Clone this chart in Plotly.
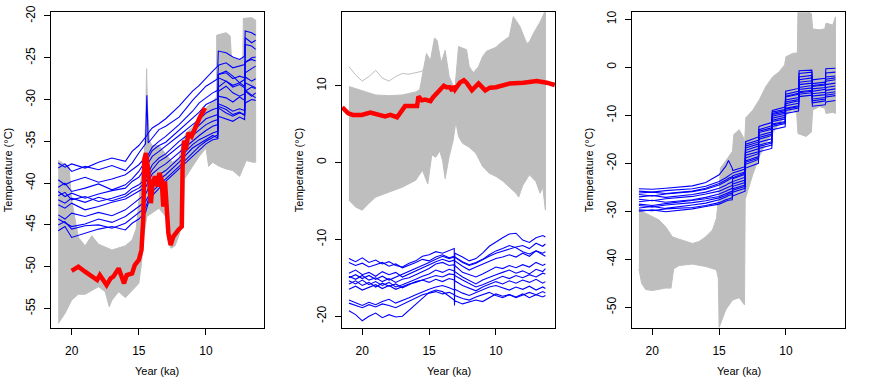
import plotly.graph_objects as go

# ---------------- Panel 1 data ----------------
g1_up_x = [21, 20.2, 20.0, 19.8, 19.5, 19, 18.5, 18, 17, 16, 15.5, 15.2, 15.0, 14.8, 14.6, 14.5, 14.42, 14.35, 14.2, 14.0,
           13.5, 13.0, 12.5, 12.0, 11.8, 11.5, 11.0, 10.5, 10.0, 9.5, 9.22, 9.2, 8.5, 8.2, 8.1, 7.5, 7.25, 7.22, 6.6, 6.3]
g1_up_y = [-37.3, -38.0, -42.0, -44.0, -46.5, -47.5, -46.3, -47.3, -48.0, -47.5, -46.8, -45.5, -42.0, -39.0, -37.0, -33.0, -26.3, -31.0, -35.0, -35.5,
           -35.5, -36.5, -37.5, -37.0, -35.5, -34.0, -33.3, -32.0, -31.0, -30.2, -29.7, -22.3, -22.0, -22.4, -25.0, -25.3, -25.0, -20.3, -20.2, -20.5]
g1_lo_x = [21, 20.5, 20, 19.5, 19, 18, 17.5, 17.2, 17, 16.5, 16, 15.5, 15, 14.8, 14.6, 14.4, 14, 13.5, 13, 12.8,
           12.6, 12.3, 12, 11.7, 11.6, 11, 10.5, 10, 9.8, 9.5, 9, 8.5, 8, 7.5, 7, 6.5, 6.3]
g1_lo_y = [-56.8, -55.6, -54.0, -53.3, -53.3, -52.4, -53.0, -54.8, -54.0, -53.0, -53.7, -52.9, -52.0, -49.6, -46.0, -44.0, -43.6, -43.0, -44.0, -47.0,
           -47.8, -47.5, -46.2, -44.5, -39.5, -38.0, -36.8, -35.8, -38.0, -37.5, -38.0, -38.3, -38.5, -39.2, -37.3, -37.5, -37.5]

years1 = [21, 20.5, 20, 19, 18, 17, 16, 15.5, 15, 14.5, 14.4, 14.3, 14, 13.5, 13, 12, 11, 10.5, 10, 9.5,
          9.12, 9.08, 8.5, 8, 7.5, 7.12, 7.08, 6.6, 6.3]
blue1 = [
    [-37.6, -38.1, -37.7, -38.2, -37.5, -37.0, -37.4, -36.2, -35.5, -34.6, -34.3, -34.0, -33.4, -32.9, -32.3, -30.8, -29.0, -28.3, -27.4, -26.6, -26.0, -24.2, -24.4, -24.9, -25.2, -24.8, -21.8, -22.0, -22.3],
    [-38.2, -37.7, -38.6, -38.0, -38.4, -37.9, -38.5, -37.6, -36.4, -35.3, -29.5, -35.2, -34.6, -33.6, -33.2, -32.1, -30.1, -29.2, -28.4, -27.9, -27.5, -25.9, -25.6, -26.2, -26.0, -25.8, -25.5, -25.2, -25.4],
    [-39.6, -40.2, -39.8, -39.3, -39.9, -39.5, -39.0, -38.4, -37.8, -36.9, -36.5, -36.6, -35.7, -35.0, -34.4, -33.0, -31.4, -30.4, -29.8, -29.2, -28.9, -28.5, -27.8, -28.3, -28.0, -28.4, -25.6, -25.0, -24.9],
    [-40.5, -40.0, -41.0, -40.6, -40.1, -40.8, -40.2, -39.5, -38.6, -37.3, -36.8, -37.0, -36.1, -35.5, -35.1, -33.7, -32.2, -31.5, -30.6, -30.2, -29.9, -27.0, -26.8, -27.5, -27.2, -27.4, -26.8, -26.3, -26.0],
    [-41.0, -41.6, -41.2, -41.8, -41.3, -40.9, -40.6, -39.8, -39.3, -38.2, -37.9, -37.6, -36.8, -36.2, -35.6, -34.3, -33.0, -32.4, -31.6, -31.2, -31.0, -29.6, -29.8, -30.3, -29.7, -30.1, -28.0, -28.4, -28.6],
    [-41.5, -41.1, -42.0, -41.6, -42.2, -41.8, -41.3, -40.6, -40.2, -39.5, -39.0, -38.8, -37.8, -37.0, -36.5, -35.0, -33.8, -33.1, -32.3, -32.0, -31.8, -30.5, -30.9, -31.4, -31.1, -31.3, -22.6, -23.2, -22.9],
    [-42.0, -42.4, -41.8, -42.3, -41.7, -42.1, -41.6, -41.0, -40.6, -39.9, -39.6, -39.2, -38.4, -37.4, -36.9, -35.6, -34.2, -33.6, -33.0, -32.6, -32.4, -27.0, -26.6, -27.2, -28.0, -27.6, -27.3, -27.8, -27.5],
    [-42.6, -43.0, -42.4, -43.2, -42.8, -42.3, -41.9, -41.4, -41.0, -40.5, -40.2, -39.8, -38.9, -38.2, -37.7, -36.3, -34.9, -34.3, -33.7, -33.2, -33.0, -29.0, -28.4, -29.2, -29.6, -29.3, -29.0, -28.5, -28.7],
    [-43.8, -44.3, -43.6, -44.0, -43.5, -43.9, -43.2, -42.6, -42.0, -41.3, -41.0, -40.6, -39.6, -39.0, -38.5, -37.0, -35.4, -34.8, -34.4, -34.0, -33.8, -27.4, -27.8, -28.5, -28.2, -28.6, -28.9, -29.4, -29.8],
    [-44.3, -44.8, -45.2, -44.9, -44.3, -44.7, -44.0, -43.4, -42.8, -42.2, -41.9, -41.6, -40.5, -39.6, -39.0, -37.5, -35.8, -35.3, -34.7, -34.3, -34.6, -30.8, -31.2, -31.8, -31.5, -31.9, -30.4, -30.0, -30.1],
    [-45.0, -44.6, -45.5, -45.1, -45.0, -45.4, -44.8, -44.2, -43.6, -42.9, -42.5, -42.0, -41.0, -40.2, -39.5, -38.0, -36.4, -35.6, -35.0, -34.5, -34.2, -32.0, -32.3, -32.6, -32.1, -32.4, -29.0, -29.6, -29.2],
    [-45.7, -45.2, -46.5, -46.0, -45.5, -45.2, -45.6, -44.8, -44.3, -43.5, -43.0, -42.4, -41.5, -40.6, -39.8, -38.3, -36.8, -36.1, -35.3, -34.8, -34.7, -31.0, -31.6, -32.0, -31.6, -31.8, -23.4, -23.6, -24.0],
]
red1_x = [20, 19.5, 19, 18.5, 18.1, 17.9, 17.6, 17.4, 17.1, 16.9, 16.5, 16.3, 16.1, 15.9, 15.5, 15.3, 15.0, 14.8, 14.66, 14.6,
          14.47, 14.3, 14.1, 13.97, 13.8, 13.6, 13.47, 13.3, 13.18, 13.05, 12.93, 12.8, 12.63, 12.43, 12.06, 11.8, 11.74, 11.64, 11.5, 11.3,
          11.07, 10.8, 10.45, 10.07]
red1_y = [-50.5, -50.0, -50.6, -51.2, -51.6, -51.0, -51.6, -52.2, -51.4, -51.2, -50.2, -51.2, -52.0, -51.0, -50.8, -49.8, -49.2, -48.0, -44.0, -37.2,
          -36.4, -38.4, -42.4, -40.0, -39.2, -40.4, -38.8, -39.6, -42.8, -39.8, -43.2, -46.0, -47.4, -46.4, -45.6, -45.2, -38.0, -34.9, -36.0, -34.0,
          -34.4, -33.3, -32.1, -31.0]

# ---------------- Panel 2 data ----------------
g2_up_x = [21, 20, 19, 18, 17, 16, 15.7, 15.2, 14.9, 14.6, 14.4, 14.1, 13.8, 13.5, 13.2, 13.1, 12.8, 12.2, 12.0, 11.7,
           11.3, 11.0, 10.7, 10.0, 9.7, 9.0, 8.7, 8.5, 8.2, 7.7, 7.5, 7.2, 6.7, 6.3]
g2_up_y = [9.9, 9.4, 8.8, 8.7, 8.8, 9.2, 9.5, 14.2, 13.3, 16.2, 15.9, 13.0, 14.6, 11.2, 10.0, 9.0, 15.1, 14.7, 12.5, 11.7,
           12.5, 13.8, 14.5, 15.0, 15.5, 16.4, 19.0, 18.5, 17.7, 15.5, 15.7, 16.8, 18.3, 19.8]
g2_lo_x = [21, 20.5, 20, 19.5, 19, 18, 17, 16, 15.5, 15.1, 14.8, 14.5, 14.2, 14.0, 13.8, 13.5, 13.2, 13.0, 12.8, 12.5,
           12.0, 11.5, 11.0, 10.5, 10.0, 9.5, 9.0, 8.5, 8.3, 8.0, 7.5, 7.0, 6.7, 6.5, 6.3]
g2_lo_y = [-4.9, -5.8, -6.2, -5.3, -4.5, -3.8, -3.2, -2.3, -1.0, -2.8, 1.0, 0.7, 1.5, 0.3, -2.1, 0.8, 2.9, 5.3, 3.4, 2.5,
           2.0, 1.2, -0.5, -1.4, -1.8, -2.4, -3.2, -4.0, -4.5, -3.0, -1.6, -2.5, -4.0, -3.2, -6.2]
g2_out_x = [21, 20.5, 20, 19.5, 19, 18.5, 18, 17.5, 17, 16.5, 16, 15.5, 15.2]
g2_out_y = [12.5, 11.4, 10.6, 11.2, 12.0, 11.0, 10.6, 11.2, 11.6, 11.5, 11.7, 11.9, 13.0]

years2 = [21, 20.5, 20, 19.5, 19, 18.5, 18, 17.5, 17, 16.5, 16, 15.5, 15, 14.5, 14, 13.5, 13.12, 13.1, 13.08, 12.5,
          12, 11.5, 11, 10.5, 10, 9.5, 9, 8.5, 8, 7.5, 7, 6.5, 6.3]
blue2 = [
    [-12.5, -12.9, -12.4, -13.0, -12.7, -13.2, -12.9, -13.4, -13.6, -13.1, -12.8, -12.2, -12.0, -11.6, -11.8, -11.5, -11.2, -18.6, -11.8, -12.3, -12.8, -12.5, -11.8, -10.9, -10.3, -9.8, -9.3, -9.2, -10.1, -10.4, -9.8, -9.5, -9.7],
    [-13.0, -13.4, -13.1, -13.6, -13.3, -13.0, -13.5, -13.2, -13.7, -13.4, -13.0, -12.6, -12.8, -12.3, -12.0, -12.4, -12.2, -12.5, -12.3, -13.0, -13.4, -13.1, -12.6, -12.2, -11.8, -11.5, -11.2, -11.0, -10.8, -11.2, -10.5, -10.9, -10.6],
    [-14.4, -14.0, -14.6, -14.3, -14.8, -14.2, -14.6, -14.3, -14.9, -14.5, -14.1, -13.6, -13.2, -12.9, -12.6, -12.9, -12.7, -12.9, -12.8, -13.5, -14.0, -13.6, -13.2, -12.9, -12.5, -12.3, -12.0, -12.3, -11.8, -12.2, -11.5, -11.8, -11.6],
    [-14.8, -15.2, -14.7, -15.3, -15.0, -15.5, -15.1, -15.6, -15.2, -15.0, -14.6, -14.2, -13.8, -13.2, -13.0, -13.4, -13.3, -13.5, -13.4, -14.3, -14.6, -14.9, -14.5, -14.0, -13.6, -13.8, -13.4, -13.7, -13.3, -13.6, -13.0, -13.4, -13.2],
    [-15.0, -14.6, -15.1, -14.7, -15.2, -14.8, -15.3, -14.9, -14.6, -14.2, -13.8, -13.4, -13.0, -12.6, -12.2, -12.5, -12.3, -12.4, -12.3, -12.9, -13.3, -13.0, -12.6, -12.0, -11.5, -11.2, -10.8, -11.1, -11.6, -11.9, -11.5, -12.0, -12.2],
    [-15.4, -15.8, -15.3, -15.9, -15.5, -16.0, -15.6, -16.2, -15.9, -15.6, -15.2, -14.8, -14.5, -14.0, -14.3, -13.9, -14.1, -14.3, -14.2, -14.9, -15.4, -15.8, -15.3, -14.9, -14.6, -14.3, -14.0, -14.4, -14.1, -14.5, -13.9, -14.2, -13.8],
    [-15.8, -15.4, -16.0, -15.6, -16.2, -15.7, -16.1, -15.8, -16.3, -15.9, -15.5, -15.3, -15.0, -14.7, -14.9, -14.5, -14.6, -14.8, -14.7, -15.3, -15.8, -16.2, -15.9, -15.5, -15.1, -14.8, -15.1, -14.7, -15.0, -14.6, -14.9, -14.4, -14.5],
    [-16.5, -16.1, -16.6, -16.2, -15.9, -16.4, -16.0, -16.5, -16.1, -15.8, -15.6, -15.3, -15.6, -15.2, -15.5, -15.1, -15.3, -15.4, -15.4, -16.0, -16.4, -16.7, -16.2, -15.9, -15.5, -15.8, -15.4, -15.7, -15.3, -15.6, -15.2, -15.7, -15.5],
    [-17.9, -18.3, -18.6, -18.2, -18.5, -18.1, -17.8, -18.3, -18.0, -17.6, -17.2, -16.8, -16.5, -16.2, -16.0, -16.3, -16.5, -16.6, -16.5, -17.0, -17.3, -16.9, -16.6, -16.2, -16.0, -16.3, -16.6, -16.2, -16.5, -16.1, -16.6, -16.2, -16.4],
    [-18.3, -18.6, -18.9, -18.5, -18.8, -18.4, -18.6, -18.9, -18.5, -18.1, -17.7, -17.2, -17.0, -16.8, -17.1, -16.9, -17.2, -17.4, -17.3, -17.7, -17.9, -17.5, -17.2, -16.9, -17.3, -17.6, -17.2, -17.5, -17.1, -17.6, -17.2, -17.5, -17.3],
    [-19.3, -19.8, -20.6, -20.0, -19.6, -20.2, -19.8, -20.1, -20.0, -19.2, -18.4, -17.6, -16.9, -16.6, -16.8, -17.4, -17.9, -18.2, -18.0, -18.4, -18.2, -17.9, -18.1, -17.6, -17.1, -17.4, -17.2, -17.6, -17.3, -16.9, -17.2, -16.8, -17.0],
]
red2_x = [21.5, 21.05, 20.7, 20.05, 19.4, 18.8, 18.3, 17.9, 17.4, 16.8, 15.9, 15.8, 15.55, 15.3, 14.9, 14.7, 13.9, 13.7, 13.45, 13.27,
          13.2, 13.07, 12.7, 12.4, 12.2, 11.8, 11.3, 10.8, 10.45, 10.0, 9.45, 8.95, 7.95, 6.95, 6.2, 5.6]
red2_y = [7.2, 6.4, 6.2, 6.2, 6.5, 6.2, 6.0, 6.2, 5.9, 7.35, 7.35, 8.6, 8.1, 8.2, 8.0, 8.5, 10.0, 9.8, 9.8, 9.35,
          9.95, 9.5, 10.4, 10.7, 10.4, 9.4, 10.3, 9.4, 9.75, 9.8, 10.1, 10.3, 10.4, 10.6, 10.4, 10.1]

# ---------------- Panel 3 data ----------------
g3_up_x = [21, 20.5, 20, 19.5, 19, 18.5, 18, 17.5, 17, 16.5, 16, 15.5, 15.2, 15.0, 14.9, 14.5, 14.0, 13.9, 13.5, 13.2,
           13.1, 13.0, 12.5, 12.0, 11.5, 11.0, 10.5, 10.1, 10.0, 9.5, 9.15, 9.1, 8.5, 8.1, 8.0, 7.5, 7.1, 7.0, 6.5, 6.3]
g3_up_y = [-29.7, -30.4, -31.1, -31.8, -33.2, -35.3, -35.8, -36.3, -36.7, -36.3, -35.3, -33.9, -31.5, -26.0, -21.0, -19.5, -17.5, -14.0, -13.0, -14.5,
           -16.0, -10.5, -9.0, -6.8, -4.0, -2.0, -0.9, 0.5, 2.2, 2.9, 3.0, 11.8, 11.8, 11.2, 8.0, 7.8, 8.0, 9.2, 8.8, 10.5]
g3_lo_x = [21, 20.8, 20.5, 20, 19.5, 19, 18.6, 18.4, 18, 17, 16, 15.2, 15.06, 15.0, 14.5, 14.0, 13.5, 13.1, 13.05, 13.0,
           12.5, 12.0, 11.5, 11.0, 10.5, 10.0, 9.5, 9.2, 9.1, 8.5, 8.1, 8.0, 7.5, 7.1, 7.0, 6.5, 6.3]
g3_lo_y = [-42.0, -45.0, -46.3, -46.5, -46.3, -46.0, -46.0, -42.0, -41.3, -41.0, -41.5, -42.2, -44.0, -54.2, -50.5, -48.5, -48.0, -49.5, -27.5, -27.0,
           -22.5, -18.6, -15.8, -13.7, -11.7, -9.9, -8.9, -9.5, -13.8, -14.4, -13.5, -8.9, -8.2, -8.5, -9.6, -9.4, -9.6]

years3 = [21, 20, 19, 18, 17, 16, 15, 14.5, 14.3, 14.02, 13.98, 13.06, 13.02, 12.06, 12.02, 11.06, 11.02, 10.06, 10.02, 9.06,
          9.02, 8.06, 8.02, 7.06, 7.02, 6.3]
blue3 = [
    [-25.3, -25.4, -25.2, -25.0, -24.7, -24.0, -22.4, -20.6, -19.4, -21.0, -21.5, -20.7, -15.5, -14.5, -12.3, -11.5, -9.0, -8.3, -5.0, -4.4, -0.7, -0.6, -4.0, -3.7, -0.3, -0.2],
    [-25.8, -26.0, -25.7, -25.5, -25.3, -24.8, -23.8, -23.0, -22.6, -22.2, -22.0, -21.2, -16.0, -15.2, -15.0, -14.2, -9.3, -8.8, -5.6, -5.0, -3.1, -2.8, -3.4, -3.1, -3.6, -3.3],
    [-26.5, -26.8, -26.4, -26.2, -25.9, -25.4, -24.5, -23.8, -23.4, -23.0, -22.6, -21.8, -16.8, -16.0, -13.6, -12.9, -9.8, -9.3, -6.2, -5.6, -2.6, -2.2, -2.6, -2.3, -2.0, -1.8],
    [-27.0, -26.7, -27.1, -26.8, -26.5, -26.0, -25.2, -24.6, -24.2, -23.9, -23.2, -22.3, -17.3, -16.4, -14.2, -13.5, -10.2, -9.6, -8.5, -8.0, -1.3, -1.0, -4.5, -4.2, -2.9, -2.6],
    [-27.5, -27.8, -27.4, -27.2, -26.9, -26.4, -25.8, -25.2, -24.9, -24.6, -23.8, -22.9, -17.8, -17.0, -14.6, -13.9, -10.6, -10.0, -7.2, -6.7, -3.6, -3.3, -5.0, -4.6, -1.2, -1.0],
    [-28.0, -27.7, -28.1, -27.9, -27.6, -27.1, -26.4, -25.8, -25.5, -25.2, -24.3, -23.5, -18.3, -17.6, -13.0, -12.2, -11.0, -10.4, -7.6, -7.0, -4.2, -3.8, -5.5, -5.2, -4.2, -3.9],
    [-28.5, -28.8, -28.4, -28.1, -27.8, -27.4, -26.9, -26.4, -26.1, -25.8, -26.8, -25.8, -18.9, -18.0, -15.6, -14.9, -11.3, -10.8, -8.0, -7.5, -4.6, -4.3, -6.0, -5.7, -4.8, -4.5],
    [-29.3, -29.0, -29.4, -29.1, -28.7, -28.3, -27.6, -27.0, -26.7, -26.5, -25.3, -24.5, -19.5, -18.6, -16.2, -15.5, -11.8, -11.3, -6.8, -6.3, -5.1, -4.8, -6.6, -6.3, -5.4, -5.1],
    [-29.7, -29.9, -29.5, -29.4, -29.2, -28.8, -28.2, -27.6, -27.4, -27.2, -26.0, -25.2, -20.2, -19.2, -16.9, -16.2, -12.3, -11.7, -9.0, -8.5, -5.6, -5.3, -7.4, -7.0, -6.2, -5.9],
    [-30.0, -29.7, -30.1, -29.8, -29.5, -29.0, -28.5, -27.9, -27.7, -27.6, -24.8, -24.0, -21.0, -20.0, -17.6, -16.9, -13.0, -12.4, -9.6, -9.1, -6.1, -5.8, -8.1, -7.8, -7.2, -6.9],
    [-26.2, -26.0, -26.3, -26.1, -25.8, -25.2, -24.2, -23.5, -23.1, -22.8, -23.0, -22.0, -16.4, -15.6, -13.3, -12.6, -9.6, -9.0, -6.0, -5.4, -2.0, -1.7, -3.8, -3.5, -2.5, -2.2],
    [-28.8, -29.1, -28.7, -28.5, -28.2, -27.8, -27.2, -26.7, -26.4, -26.2, -25.6, -24.8, -19.8, -18.9, -16.5, -15.8, -12.0, -11.5, -8.7, -8.2, -5.3, -5.0, -7.0, -6.6, -5.8, -5.5],
]

# ---------------- Axes definitions ----------------
xticks = [20, 15, 10]
yticks1 = [-55, -50, -45, -40, -35, -30, -25, -20]
yticks2 = [-20, -10, 0, 10]
yticks3 = [-50, -40, -30, -20, -10, 0, 10]

GRAY = "#BEBEBE"
BLUE = "#0000FF"
RED = "#FF0000"
FONT = "Liberation Sans, Arial, sans-serif"

W, H = 871, 379
panels = [
    dict(left=50.7, right=264.0, xr=[21.56, 5.68], yr=[-57.3, -19.56], yt=yticks1),
    dict(left=341.7, right=555.3, xr=[21.54, 5.56], yr=[-21.5, 19.56], yt=yticks2),
    dict(left=631.7, right=845.3, xr=[21.54, 5.56], yr=[-54.25, 11.46], yt=yticks3),
]
top_px, bot_px = 12.3, 327.7

fig = go.Figure()


def envelope(xa, ya, up_x, up_y, lo_x, lo_y):
    fig.add_trace(go.Scatter(
        x=list(up_x) + list(reversed(lo_x)), y=list(up_y) + list(reversed(lo_y)),
        mode="lines", fill="toself", fillcolor=GRAY, line=dict(color=GRAY, width=1),
        xaxis=xa, yaxis=ya, hoverinfo="skip", showlegend=False))


def lines(xa, ya, xs, ys_list, color, width):
    for ys in ys_list:
        fig.add_trace(go.Scatter(x=xs, y=ys, mode="lines", line=dict(color=color, width=width),
                                 xaxis=xa, yaxis=ya, hoverinfo="skip", showlegend=False))


# panel 1
envelope("x", "y", g1_up_x, g1_up_y, g1_lo_x, g1_lo_y)
lines("x", "y", years1, blue1, BLUE, 1.1)
lines("x", "y", red1_x, [red1_y], RED, 4.5)
# panel 2
envelope("x2", "y2", g2_up_x, g2_up_y, g2_lo_x, g2_lo_y)
lines("x2", "y2", g2_out_x, [g2_out_y], GRAY, 1)
lines("x2", "y2", years2, blue2, BLUE, 1.1)
lines("x2", "y2", red2_x, [red2_y], RED, 4.5)
# panel 3
envelope("x3", "y3", g3_up_x, g3_up_y, g3_lo_x, g3_lo_y)
lines("x3", "y3", years3, blue3, BLUE, 1.1)

layout = dict(
    width=W, height=H, margin=dict(l=0, r=0, t=0, b=0),
    paper_bgcolor="white", plot_bgcolor="white", showlegend=False,
    font=dict(family=FONT, size=12, color="black"),
)
annotations = []
for i, p in enumerate(panels):
    sfx = "" if i == 0 else str(i + 1)
    xa = dict(domain=[p["left"] / W, p["right"] / W], range=p["xr"], tickvals=xticks,
              ticktext=[str(v) for v in xticks], ticks="outside", ticklen=6, tickcolor="black",
              showline=True, linecolor="black", linewidth=1, mirror=True, showgrid=False,
              zeroline=False, anchor="y" + sfx, tickfont=dict(size=12, family=FONT),
              ticklabelstandoff=6, automargin=False)
    ya = dict(domain=[1 - bot_px / H, 1 - top_px / H], range=p["yr"], tickvals=p["yt"],
              ticktext=[str(v) for v in p["yt"]], ticks="outside", ticklen=6, tickcolor="black",
              showline=True, linecolor="black", linewidth=1, mirror=True, showgrid=False,
              zeroline=False, anchor="x" + sfx, tickangle=-90, tickfont=dict(size=12, family=FONT),
              ticklabelstandoff=4, automargin=False)
    layout["xaxis" + sfx] = xa
    layout["yaxis" + sfx] = ya
    annotations.append(dict(text="Year (ka)", x=(p["left"] + p["right"]) / 2 / W, y=1 - 371 / H,
                            xref="paper", yref="paper", showarrow=False, xanchor="center",
                            yanchor="middle", font=dict(size=11, family=FONT)))
    annotations.append(dict(text="Temperature (°C)", x=(p["left"] - 43) / W, y=1 - 170.5 / H,
                            xref="paper", yref="paper", showarrow=False, xanchor="center",
                            yanchor="middle", textangle=-90, font=dict(size=11, family=FONT)))
layout["annotations"] = annotations
fig.update_layout(**layout)
fig.write_html("out.html", config={"displayModeBar": False},
               post_script="document.body.style.margin='0';document.body.style.padding='0';")
